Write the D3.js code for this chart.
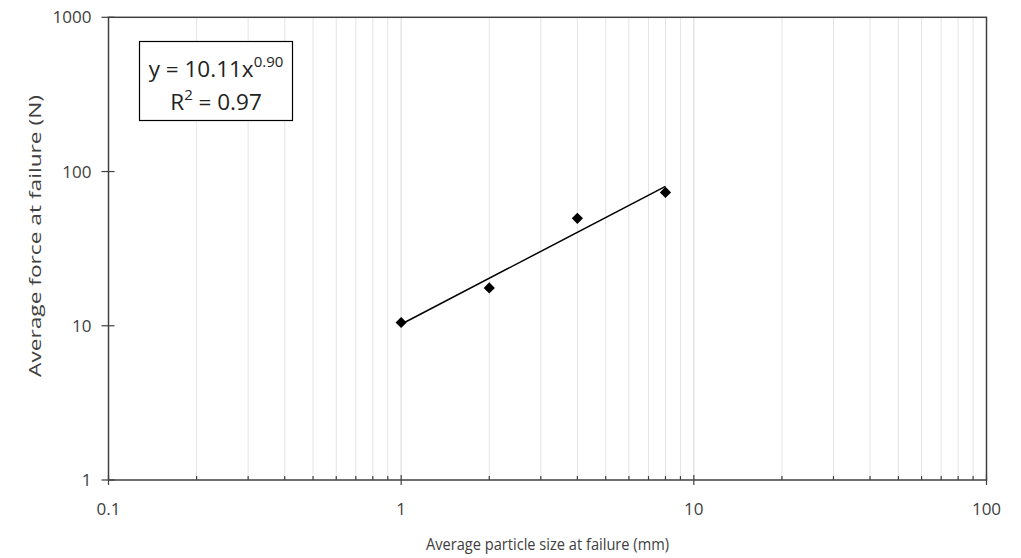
<!DOCTYPE html>
<html>
<head>
<meta charset="utf-8">
<script src="https://cdn.jsdelivr.net/npm/d3@7"></script>
<style>
  body { margin: 0; background: #fff; }
  text { font-family: "Open Sans", "Liberation Sans", sans-serif; fill: #404040; }
</style>
</head>
<body>
<div id="chart"></div>
<script>
// data
const particleSize = [1, 2, 4, 8];
const avgForce = [10.5, 17.6, 49.7, 73.2];
const xTicks = [0.1, 1, 10, 100];
const yTicks = [1, 10, 100, 1000];
const equationText = "y = 10.11x";
const equationExp = "0.90";
const r2Text = "0.97";

const width = 1021, height = 558;
const plotLeft = 108.5, plotRight = 986.5, plotTop = 17.3, plotBottom = 480;

const svg = d3.select("#chart")
  .append("svg")
    .attr("width", width)
    .attr("height", height);

const x = d3.scaleLog().domain([0.1, 100]).range([plotLeft, plotRight]);
const y = d3.scaleLog().domain([1, 1000]).range([plotBottom, plotTop]);

// minor vertical gridlines
const minorX = [];
for (let d = 0.1; d < 100; d *= 10) {
  for (let k = 1; k <= 10; k++) minorX.push(+(d * k).toPrecision(3));
}
const gridX = minorX.filter(v => v > 0.1 && v < 100);
svg.append("g")
  .selectAll("line")
  .data(gridX)
  .enter()
  .append("line")
    .attr("x1", d => x(d)).attr("x2", d => x(d))
    .attr("y1", plotTop).attr("y2", plotBottom)
    .attr("stroke", "#e4e4e4")
    .attr("stroke-width", 1);

// x axis: minor ticks inside, major ticks crossing
const xAxis = svg.append("g");
xAxis.selectAll("line.minor")
  .data(gridX.filter(v => !xTicks.includes(v)))
  .enter()
  .append("line")
    .attr("x1", d => x(d)).attr("x2", d => x(d))
    .attr("y1", plotBottom - 4).attr("y2", plotBottom)
    .attr("stroke", "#404040").attr("stroke-width", 1.2);
xAxis.selectAll("line.major")
  .data(xTicks)
  .enter()
  .append("line")
    .attr("x1", d => x(d)).attr("x2", d => x(d))
    .attr("y1", plotBottom - 5).attr("y2", plotBottom + 5)
    .attr("stroke", "#404040").attr("stroke-width", 1.2);
xAxis.selectAll("text")
  .data(xTicks)
  .enter()
  .append("text")
    .attr("x", d => x(d))
    .attr("y", plotBottom + 35)
    .attr("text-anchor", "middle")
    .attr("font-size", 17)
    .text(d => d3.format("~g")(d));

// y axis ticks
const yAxis = svg.append("g");
yAxis.selectAll("line")
  .data(yTicks)
  .enter()
  .append("line")
    .attr("x1", plotLeft - 7).attr("x2", plotLeft + 6)
    .attr("y1", d => y(d)).attr("y2", d => y(d))
    .attr("stroke", "#404040").attr("stroke-width", 1.2);
yAxis.selectAll("text")
  .data(yTicks)
  .enter()
  .append("text")
    .attr("x", plotLeft - 17)
    .attr("y", d => y(d) + 6)
    .attr("text-anchor", "end")
    .attr("font-size", 17)
    .text(d => d);

// plot frame
svg.append("rect")
  .attr("x", plotLeft).attr("y", plotTop)
  .attr("width", plotRight - plotLeft).attr("height", plotBottom - plotTop)
  .attr("fill", "none")
  .attr("stroke", "#404040")
  .attr("stroke-width", 1.5);

// power trendline: least squares on log-log
const lx = particleSize.map(Math.log10), ly = avgForce.map(Math.log10);
const mx = d3.mean(lx), my = d3.mean(ly);
const slope = d3.sum(lx, (v, i) => (v - mx) * (ly[i] - my)) / d3.sum(lx, v => (v - mx) ** 2);
const icpt = my - slope * mx;
const xr = d3.extent(particleSize);
svg.append("line")
  .attr("x1", x(xr[0])).attr("y1", y(10 ** (icpt + slope * Math.log10(xr[0]))))
  .attr("x2", x(xr[1])).attr("y2", y(10 ** (icpt + slope * Math.log10(xr[1]))))
  .attr("stroke", "#000")
  .attr("stroke-width", 1.5);

// diamonds
svg.append("g")
  .selectAll("path")
  .data(particleSize.map((v, i) => [v, avgForce[i]]))
  .enter()
  .append("path")
    .attr("transform", d => `translate(${x(d[0])},${y(d[1])})`)
    .attr("d", d3.symbol(d3.symbolDiamond2, 80))
    .attr("fill", "#000");

// equation box
svg.append("rect")
  .attr("x", 139.5).attr("y", 41.5)
  .attr("width", 153).attr("height", 79)
  .attr("fill", "#fff")
  .attr("stroke", "#000")
  .attr("stroke-width", 1.2);
const eq = svg.append("text")
  .attr("x", 216).attr("y", 77)
  .attr("text-anchor", "middle")
  .attr("font-size", 22.5)
  .style("fill", "#222");
eq.append("tspan").text(equationText);
eq.append("tspan").attr("dy", -10).attr("font-size", 15).text(equationExp);
const r2 = svg.append("text")
  .attr("x", 216).attr("y", 110)
  .attr("text-anchor", "middle")
  .attr("font-size", 22.5)
  .style("fill", "#222");
r2.append("tspan").text("R");
r2.append("tspan").attr("dy", -10).attr("font-size", 15).text("2");
r2.append("tspan").attr("dy", 10).text(" = " + r2Text);

// axis titles
svg.append("text")
  .attr("transform", `translate(${(plotLeft + plotRight) / 2},550) scale(0.86,1)`)
  .attr("text-anchor", "middle")
  .attr("font-size", 17)
  .text("Average particle size at failure (mm)");
svg.append("text")
  .attr("transform", `translate(41,236) rotate(-90) scale(1.42,1)`)
  .attr("text-anchor", "middle")
  .attr("font-size", 16)
  .text("Average force at failure (N)");
</script>
</body>
</html>
